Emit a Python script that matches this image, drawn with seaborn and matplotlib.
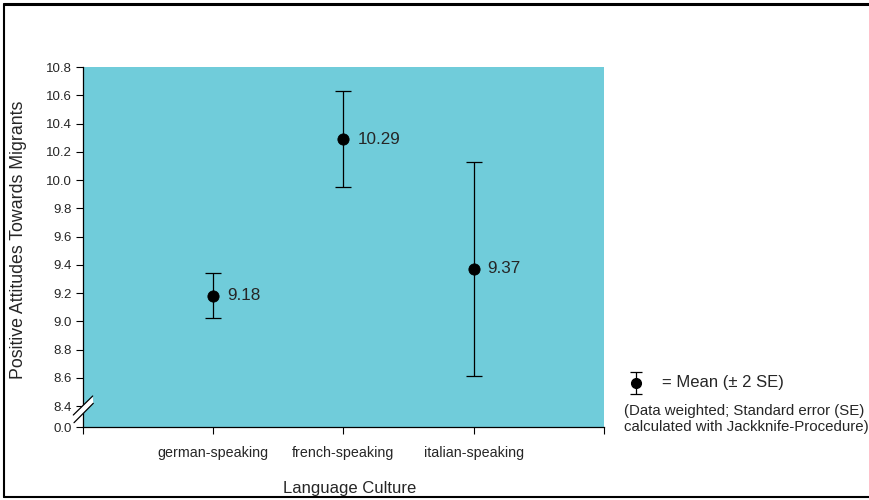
import matplotlib
matplotlib.use("Agg")
import matplotlib.pyplot as plt
import seaborn as sns
import pandas as pd
import numpy as np
from matplotlib.lines import Line2D

categories = ["german-speaking", "french-speaking", "italian-speaking"]
means = [9.18, 10.29, 9.37]
lower = [9.02, 9.95, 8.61]
upper = [9.34, 10.63, 10.13]
ytick_values = [8.4, 8.6, 8.8, 9.0, 9.2, 9.4, 9.6, 9.8, 10.0, 10.2, 10.4, 10.6, 10.8]
ytick_labels = ["8.4", "8.6", "8.8", "9.0", "9.2", "9.4", "9.6", "9.8", "10.0", "10.2", "10.4", "10.6", "10.8"]
zero_label = "0.0"

sns.set_theme(style="white")
plt.rcParams['font.family'] = ['Liberation Sans', 'DejaVu Sans']

df = pd.DataFrame({"culture": categories, "mean": means})

fig = plt.figure(figsize=(8.7, 5), dpi=100)
ax = fig.add_axes([83/870, 1-427/500, (604-83)/870, (427-67)/500])
ax.set_facecolor("#70CCDA")

sns.scatterplot(data=df, x="culture", y="mean", ax=ax, color="black", s=65,
                edgecolor="black", zorder=4, legend=False)
xs = np.arange(len(categories))
yerr = [np.array(means) - np.array(lower), np.array(upper) - np.array(means)]
ax.errorbar(xs, means, yerr=yerr, fmt="none", ecolor="black", elinewidth=0.9,
            capsize=5.5, capthick=0.9, zorder=3)
for x, m in zip(xs, means):
    ax.annotate(f"{m:.2f}", (x, m), xytext=(10, 0), textcoords="offset points",
                va="center", ha="left", fontsize=12.3)

# broken y axis: 0.0 placed below 8.4
step_px = (406 - 67) / 12
zero_pos = 8.4 - (21 / step_px) * 0.2
ax.set_ylim(zero_pos, 10.8)
ax.set_yticks([zero_pos] + ytick_values)
ax.set_yticklabels([zero_label] + ytick_labels, fontsize=9.5)
ax.set_xlim(-1, 3)
ax.set_xticks([-1, 0, 1, 2, 3])
ax.set_xticklabels(["", categories[0], categories[1], categories[2], ""], fontsize=10.3)
ax.tick_params(axis="both", which="both", length=5, width=0.8, color="black",
               direction="out", left=True, bottom=True, pad=3)
ax.tick_params(axis="x", pad=9)

for s in ["top", "right"]:
    ax.spines[s].set_visible(False)
for s in ["left", "bottom"]:
    ax.spines[s].set_color("black")
    ax.spines[s].set_linewidth(0.9)

ax.set_xlabel("")
ax.set_ylabel("")
fig.text(350/870, 1-488/500, "Language Culture", fontsize=12, ha="center", va="center")
fig.text(19/870, 1-240/500, "Positive Attitudes Towards Migrants", fontsize=12.8,
         ha="center", va="center", rotation=90)

# break marks
def fx(px):
    return px / 870
def fy(py):
    return 1 - py / 500
fig.patches.append(plt.Polygon([[fx(73.3), fy(415)], [fx(92.7), fy(396)],
                                [fx(93.3), fy(403.3)], [fx(74), fy(422.7)]],
                               closed=True, transform=fig.transFigure,
                               facecolor="white", edgecolor="none", zorder=5))
fig.lines.append(Line2D([fx(73.3), fx(92.7)], [fy(415), fy(396)], transform=fig.transFigure,
                        color="black", lw=0.9, zorder=6))
fig.lines.append(Line2D([fx(74), fx(93.3)], [fy(422.7), fy(403.3)], transform=fig.transFigure,
                        color="black", lw=0.9, zorder=6))

# legend key
lax = fig.add_axes([0, 0, 1, 1], facecolor="none")
lax.set_xlim(0, 870)
lax.set_ylim(500, 0)
lax.axis("off")
lax.errorbar([636], [383], yerr=[[11], [11]], fmt="o", color="black", ms=7,
             elinewidth=0.9, capsize=4, capthick=0.9)
lax.text(662, 383, "= Mean (± 2 SE)", fontsize=12, va="center", ha="left")
lax.text(624, 411, "(Data weighted; Standard error (SE)", fontsize=10.8, va="center", ha="left")
lax.text(624, 427, "calculated with Jackknife-Procedure)", fontsize=10.8, va="center", ha="left")

# figure border (top, left, bottom)
lax.plot([4, 870], [4, 4], color="black", lw=2.2, clip_on=False)
lax.plot([4, 4], [4, 497], color="black", lw=1.5, clip_on=False)
lax.plot([4, 870], [497, 497], color="black", lw=1.5, clip_on=False)

fig.savefig("out.png", dpi=100)
